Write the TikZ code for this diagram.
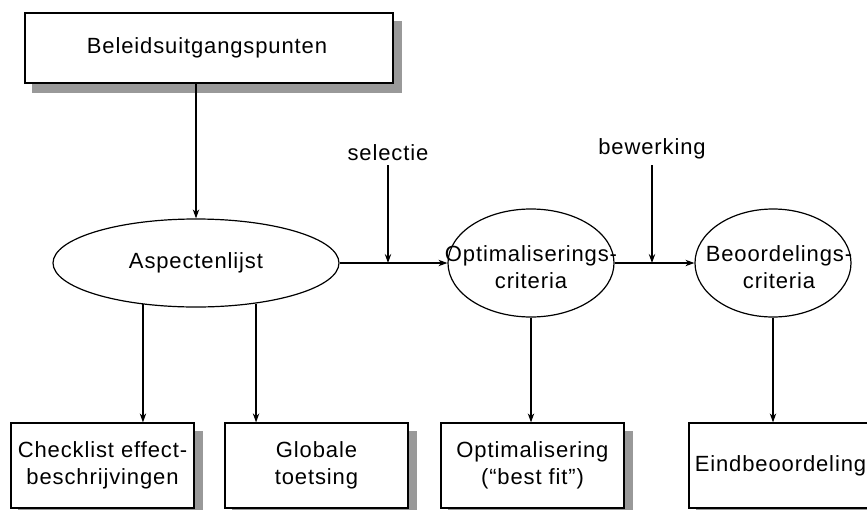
\documentclass[tikz,border=0pt]{standalone}
\usepackage{fontspec}
\setmainfont{Liberation Sans}[LetterSpace=4]
\usetikzlibrary{arrows.meta,backgrounds,shapes.geometric}
\definecolor{ShadowClr}{RGB}{153,153,153}

\begin{document}
\begin{tikzpicture}[x=0.5pt,y=-0.5pt,
  font=\fontsize{11}{13.5}\selectfont,
  every node/.style={line width=0.6pt,inner sep=0pt,align=center},
  blok/.style={draw,fill=white,minimum width=91.5pt,minimum height=42.5pt},
  kring/.style={draw,ellipse,fill=white},
  schaduw/.style={fill=ShadowClr},
  pijl/.style={line width=0.6pt,-{Stealth[length=4.5pt,width=3.2pt]}}]
\useasboundingbox (0,0) rectangle (867,509);
\clip (0,0) rectangle (867,509);

\node[blok,minimum width=184pt,minimum height=35pt,
  label={[xshift=-1pt]center:Beleidsuitgangspunten}] (beleid) at (209,48) {};

\node[kring,minimum width=143pt,minimum height=44pt] (asp) at (196,263) {Aspectenlijst};
\node[kring,minimum width=83pt,minimum height=54pt] (optc) at (531,263) {};
\node[kring,minimum width=78pt,minimum height=54pt] (beoc) at (773,263) {};
\node (optt) at ([yshift=-2pt]optc.center) {Optimaliserings-\\criteria};
\node (beot) at ([xshift=3pt,yshift=-2pt]beoc.center) {Beoordelings-\\criteria};

\node (sel) at (388,153) {selectie};
\node (bew) at (652,149) {bewerking};
\coordinate (selin) at (388,165);
\coordinate (bewin) at (652,165);

\node[blok] (check) at (102.5,465.5) {Checklist effect-\\beschrijvingen};
\node[blok] (glob) at (316.5,465.5) {Globale\\toetsing};
\node[blok] (optb) at (532.5,465.5) {Optimalisering\\(``best fit'')};
\node[blok] (eind) at (780.5,465.5) {Eindbeoordeling};

% schaduwen
\begin{scope}[on background layer]
\foreach \b in {beleid,check,glob,optb,eind}
  \fill[schaduw] ([xshift=4pt,yshift=-4.5pt]\b.south west) rectangle ([xshift=4pt,yshift=-4.5pt]\b.north east);
\end{scope}

% pijlen
\draw[pijl] (beleid.south -| asp.north) -- (asp.north);
\draw[pijl] (asp.east) -- (optc.west);
\draw[pijl] (optc.east) -- (beoc.west);
\draw[pijl] (selin) -- (selin |- asp.east);
\draw[pijl] (bewin) -- (bewin |- asp.east);

\draw[pijl] (asp.218) -- (asp.218 |- check.north);
\draw[pijl] (asp.-34) -- (asp.-34 |- glob.north);
\draw[pijl] (optc.south) -- (optc.south |- optb.north);
\draw[pijl] (beoc.south) -- (beoc.south |- eind.north);
\end{tikzpicture}
\end{document}
